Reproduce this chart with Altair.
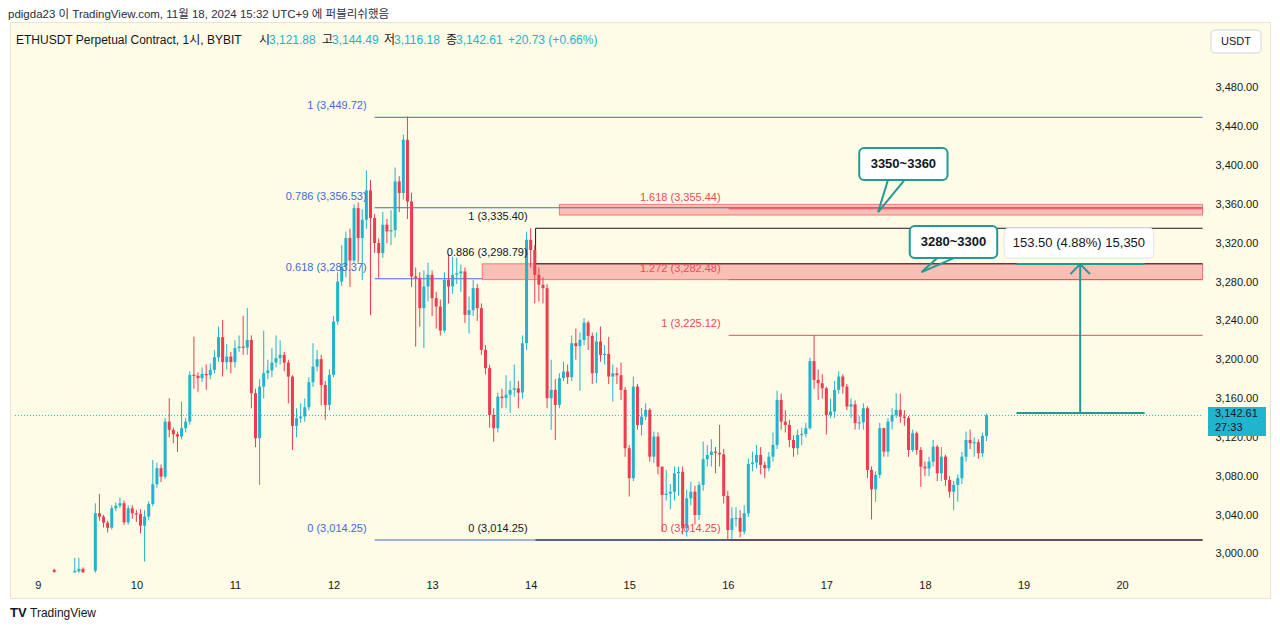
import altair as alt
import pandas as pd
from datetime import datetime, timezone

# ---------------------------------------------------------------- data
PRICE_TICKS = [3000, 3040, 3080, 3120, 3160, 3200, 3240, 3280, 3320, 3360, 3400, 3440, 3480]
DAY_TICK_HOURS = [0, 24, 48, 72, 96, 120, 144, 168, 192, 216, 240, 264]   # Nov 9 .. Nov 20 (00:00)

# a few early candles (Nov 9), mostly below the visible area
EARLY_HOURS = [4, 9, 10, 11]
EARLY_OPEN = [2983.5, 2981.0, 2982.0, 2984.5]
EARLY_HIGH = [2984.5, 2996.0, 2996.0, 2986.0]
EARLY_LOW = [2980.5, 2980.5, 2980.5, 2980.5]
EARLY_CLOSE = [2981.5, 2982.5, 2984.5, 2981.0]

# hourly candles from Nov 9 14:00 to Nov 18 15:00
MAIN_START_HOUR = 14
MAIN_FIRST_OPEN = 2982.6
CLOSES = [
    3041.8, 3038.3, 3032.1, 3026.9, 3046.9, 3049.6, 3052.1, 3032.5, 3046.9, 3041.8,
    3041.0, 3029.0, 3038.3, 3051.4, 3071.7, 3088.2, 3079.5, 3136.2, 3127.7, 3123.2,
    3120.8, 3129.4, 3136.2, 3184.4, 3183.5, 3181.0, 3185.4, 3184.0, 3189.5, 3202.6,
    3223.2, 3197.5, 3203.2, 3197.5, 3211.9, 3213.5, 3212.5, 3220.4, 3165.5, 3119.1,
    3172.3, 3186.1, 3189.0, 3197.0, 3201.6, 3205.0, 3197.0, 3182.6, 3131.8, 3139.7,
    3141.5, 3151.0, 3176.8, 3192.9, 3200.5, 3174.0, 3153.4, 3184.4, 3239.3, 3280.5,
    3296.0, 3325.3, 3302.2, 3356.2, 3325.3, 3344.2, 3374.4, 3345.9, 3320.2, 3309.8,
    3339.0, 3332.1, 3333.5, 3383.6, 3371.7, 3426.6, 3363.0, 3285.7, 3284.0, 3253.1,
    3275.4, 3287.5, 3263.4, 3254.8, 3230.0, 3282.3, 3275.4, 3287.5, 3289.0, 3290.9,
    3246.2, 3251.0, 3273.7, 3253.1, 3210.1, 3191.3, 3143.1, 3129.4, 3162.0, 3160.5,
    3164.0, 3168.9, 3170.5, 3166.1, 3217.0, 3323.5, 3313.0, 3287.5, 3277.2, 3273.7,
    3160.3, 3168.9, 3153.4, 3181.0, 3187.8, 3182.0, 3217.0, 3214.0, 3220.4, 3238.2,
    3224.5, 3186.1, 3218.7, 3205.0, 3206.0, 3182.6, 3186.0, 3184.0, 3168.9, 3108.8,
    3077.9, 3172.3, 3132.8, 3141.4, 3148.3, 3100.1, 3120.8, 3089.8, 3060.6, 3062.0,
    3064.0, 3083.0, 3084.5, 3026.3, 3057.2, 3064.0, 3040.0, 3071.0, 3097.5, 3101.9,
    3105.3, 3104.0, 3102.5, 3059.6, 3024.5, 3036.6, 3037.0, 3022.8, 3041.8, 3092.6,
    3094.0, 3101.9, 3091.6, 3088.2, 3100.1, 3112.2, 3158.6, 3136.2, 3132.8, 3117.3,
    3108.8, 3122.5, 3123.5, 3129.4, 3198.5, 3179.2, 3175.8, 3170.6, 3143.1, 3146.6,
    3168.9, 3182.6, 3172.3, 3151.7, 3154.0, 3134.6, 3135.5, 3150.0, 3086.4, 3066.5,
    3081.3, 3129.4, 3105.3, 3136.2, 3143.1, 3148.3, 3141.4, 3140.0, 3107.0, 3124.2,
    3107.0, 3089.8, 3088.0, 3095.0, 3110.4, 3083.0, 3100.1, 3076.1, 3064.0, 3071.0,
    3077.9, 3100.1, 3117.3, 3114.0, 3115.0, 3103.6, 3121.5, 3142.61,
]
HIGHS = [
    3052.0, 3061.7, 3040.0, 3034.0, 3050.0, 3053.0, 3058.0, 3055.0, 3050.0, 3050.0,
    3045.0, 3046.0, 3045.0, 3054.0, 3096.7, 3094.0, 3092.0, 3140.0, 3160.3, 3130.0,
    3126.0, 3156.8, 3140.0, 3188.0, 3223.8, 3187.0, 3192.0, 3195.0, 3196.0, 3210.0,
    3234.2, 3241.0, 3216.0, 3208.0, 3220.0, 3225.0, 3245.2, 3253.1, 3225.0, 3170.0,
    3180.0, 3230.0, 3200.0, 3212.0, 3225.0, 3220.0, 3208.0, 3200.0, 3184.0, 3150.0,
    3155.0, 3160.0, 3182.0, 3217.0, 3210.0, 3205.0, 3178.0, 3190.0, 3245.0, 3290.0,
    3318.0, 3332.0, 3335.0, 3360.0, 3362.0, 3355.0, 3395.0, 3385.0, 3350.0, 3325.0,
    3352.0, 3345.0, 3354.0, 3398.0, 3389.0, 3432.0, 3450.6, 3372.0, 3295.0, 3290.0,
    3292.0, 3300.0, 3292.0, 3270.0, 3262.0, 3290.0, 3309.0, 3306.0, 3305.0, 3298.0,
    3295.0, 3265.0, 3282.0, 3278.0, 3258.0, 3215.0, 3195.0, 3150.0, 3166.0, 3170.0,
    3184.0, 3178.0, 3195.0, 3178.0, 3225.0, 3332.0, 3335.4, 3318.0, 3295.0, 3285.0,
    3278.0, 3200.0, 3180.0, 3186.0, 3198.0, 3195.0, 3225.0, 3232.0, 3228.0, 3242.8,
    3240.0, 3228.0, 3228.0, 3234.0, 3215.0, 3223.5, 3195.0, 3192.0, 3197.0, 3172.0,
    3112.0, 3182.6, 3175.0, 3150.0, 3155.0, 3150.0, 3126.0, 3125.0, 3090.0, 3086.4,
    3072.0, 3090.0, 3090.0, 3090.0, 3066.0, 3074.4, 3070.0, 3074.4, 3115.6, 3112.0,
    3118.0, 3110.0, 3132.8, 3108.0, 3065.0, 3048.0, 3048.0, 3045.0, 3050.0, 3098.0,
    3105.3, 3112.0, 3110.0, 3095.0, 3105.0, 3125.0, 3168.0, 3165.0, 3148.0, 3138.0,
    3122.0, 3128.0, 3130.0, 3135.0, 3202.0, 3225.1, 3190.0, 3185.0, 3172.0, 3160.0,
    3178.0, 3188.0, 3185.0, 3175.0, 3160.0, 3158.0, 3142.0, 3155.0, 3152.0, 3090.0,
    3085.0, 3135.0, 3130.0, 3140.0, 3150.0, 3165.5, 3165.0, 3148.0, 3142.0, 3128.0,
    3126.0, 3110.0, 3095.0, 3100.0, 3117.3, 3112.0, 3110.0, 3102.0, 3080.0, 3075.0,
    3082.0, 3105.0, 3126.0, 3128.0, 3120.0, 3118.0, 3125.0, 3144.49,
]
LOWS = [
    2980.5, 3034.0, 3027.0, 3022.0, 3025.0, 3044.0, 3047.0, 3030.0, 3030.0, 3036.0,
    3033.0, 3021.0, 2992.0, 3035.0, 3049.0, 3068.0, 3074.0, 3077.0, 3120.0, 3114.0,
    3105.0, 3118.0, 3125.0, 3133.0, 3170.0, 3167.0, 3177.0, 3169.0, 3180.0, 3186.0,
    3198.0, 3182.6, 3190.0, 3186.0, 3192.0, 3208.0, 3205.0, 3205.0, 3150.0, 3110.0,
    3071.0, 3160.0, 3180.0, 3182.0, 3192.0, 3195.0, 3188.0, 3155.0, 3107.0, 3120.0,
    3135.0, 3136.0, 3148.0, 3172.0, 3188.0, 3153.0, 3138.0, 3148.0, 3182.0, 3236.0,
    3276.0, 3285.0, 3275.0, 3300.0, 3300.0, 3282.0, 3335.0, 3246.0, 3310.0, 3284.0,
    3305.0, 3320.0, 3318.0, 3326.0, 3352.0, 3365.0, 3345.0, 3275.0, 3213.5, 3234.0,
    3212.0, 3260.0, 3245.0, 3232.0, 3225.0, 3228.0, 3258.0, 3268.0, 3278.0, 3270.0,
    3238.0, 3227.0, 3245.0, 3240.0, 3205.0, 3185.0, 3130.0, 3115.6, 3125.0, 3150.0,
    3150.0, 3145.0, 3162.0, 3150.0, 3160.0, 3210.0, 3295.0, 3258.0, 3260.0, 3258.0,
    3150.0, 3127.7, 3117.3, 3150.0, 3178.0, 3175.0, 3178.0, 3200.0, 3168.0, 3215.0,
    3210.0, 3175.0, 3176.0, 3198.0, 3195.0, 3175.0, 3157.0, 3175.0, 3158.6, 3100.0,
    3059.0, 3075.0, 3128.0, 3122.0, 3138.0, 3095.0, 3093.6, 3082.0, 3022.8, 3055.0,
    3046.0, 3055.0, 3060.0, 3020.0, 3017.7, 3050.0, 3030.0, 3035.0, 3065.0, 3090.0,
    3090.0, 3083.0, 3090.0, 3052.0, 3015.0, 3015.0, 3028.0, 3017.0, 3020.0, 3038.0,
    3085.0, 3088.0, 3082.0, 3078.0, 3085.0, 3095.0, 3108.0, 3128.0, 3125.0, 3110.0,
    3100.0, 3102.0, 3112.0, 3120.0, 3128.0, 3170.0, 3158.6, 3160.0, 3123.0, 3140.0,
    3140.0, 3165.0, 3165.0, 3148.0, 3140.0, 3128.0, 3128.0, 3128.0, 3078.0, 3035.6,
    3053.7, 3078.0, 3100.0, 3100.0, 3128.0, 3140.0, 3135.0, 3132.0, 3100.0, 3105.0,
    3102.0, 3069.0, 3080.0, 3080.0, 3090.0, 3075.0, 3075.0, 3070.0, 3058.0, 3045.0,
    3053.7, 3072.0, 3095.0, 3108.0, 3100.0, 3098.0, 3100.0, 3116.18,
]
LAST_PRICE = 3142.61

# Fibonacci tools (level, price)
BLUE_LEVELS = ["1", "0.786", "0.618", "0"]
BLUE_PRICES = [3449.72, 3356.53, 3283.37, 3014.25]
BLACK_LEVELS = ["1", "0.886", "0"]
BLACK_PRICES = [3335.40, 3298.79, 3014.25]
RED_LEVELS = ["1.618", "1.272", "1", "0"]
RED_PRICES = [3355.44, 3282.48, 3225.12, 3014.25]

# zones and notes
ZONE_LOW = [3349.0, 3282.5]
ZONE_HIGH = [3360.0, 3298.8]
NOTE_TEXTS = ["3350~3360", "3280~3300"]
MEASURE_FROM = 3145.0
MEASURE_TO = 3298.5
MEASURE_TEXT = "153.50 (4.88%) 15,350"

LEGEND_KEYS = ["시", "고", "저", "종"]
LEGEND_VALUES = ["3,121.88", "3,144.49", "3,116.18", "3,142.61"]
LEGEND_CHANGE = "+20.73 (+0.66%)"

assert len(CLOSES) == len(HIGHS) == len(LOWS)

# ---------------------------------------------------------------- helpers / style
T0 = int(datetime(2024, 11, 9, tzinfo=timezone.utc).timestamp() * 1000)


def tms(h):
    return T0 + h * 3600000


UP = "#20B4CE"
DOWN = "#EF3B50"
BG = "#FEFBE6"
TEAL = "#1F9A94"
BLUE = "#4169D6"
BLACK = "#131722"
RED = "#EE4A58"
FONT = "Liberation Sans, Noto Sans CJK KR, sans-serif"

H_LEFT, H_RIGHT = -5.556, 298.8      # visible time range (hours from Nov 9 00:00)
H_EDGE = 283.6                       # right edge of drawings (price-axis boundary)
P_MIN, P_MAX = 2954.5, 3547.9

xs = alt.Scale(type="utc", domain=[tms(H_LEFT), tms(H_RIGHT)])
ys = alt.Scale(domain=[P_MIN, P_MAX], zero=False, nice=False)
XAX = alt.Axis(values=[tms(h) for h in DAY_TICK_HOURS], labelExpr="utcFormat(datum.value, '%-d')",
               title=None, domain=False, ticks=False, grid=False, offset=-24,
               labelPadding=5, labelFontSize=11, labelColor=BLACK, labelFont=FONT,
               labelOverlap=False, labelFlush=False)
YAX = alt.Axis(orient="right", values=PRICE_TICKS, format=",.2f", title=None,
               domain=False, ticks=False, grid=False, offset=-63, labelPadding=8,
               labelFontSize=11, labelColor=BLACK, labelFont=FONT, labelOverlap=False,
               labelFlush=False)


def X(f):
    return alt.X(f + ":T", scale=xs, axis=XAX)


def Y(f):
    return alt.Y(f + ":Q", scale=ys, axis=YAX)


# ---------------------------------------------------------------- candle table
hours = EARLY_HOURS + list(range(MAIN_START_HOUR, MAIN_START_HOUR + len(CLOSES)))
opens = EARLY_OPEN + [MAIN_FIRST_OPEN] + CLOSES[:-1]
highs = EARLY_HIGH + HIGHS
lows = EARLY_LOW + LOWS
closes = EARLY_CLOSE + CLOSES
rows = []
for h, o, hi, lo, c in zip(hours, opens, highs, lows, closes):
    top, bot = max(o, c), min(o, c)
    if top - bot < 1.2:
        bot = top - 1.2
    rows.append(dict(t=tms(h), o=o, h=hi, l=lo, c=c, top=top, bot=bot,
                     d="up" if c >= o else "down"))
candles = pd.DataFrame(rows)
cscale = alt.Color("d:N", scale=alt.Scale(domain=["up", "down"], range=[UP, DOWN]), legend=None)

wicks = alt.Chart(candles).mark_rule(strokeWidth=1).encode(x=X("t"), y=Y("l"), y2=alt.Y2("h"), color=cscale)
bodies = alt.Chart(candles).mark_bar(size=3).encode(x=X("t"), y=Y("bot"), y2=alt.Y2("top"), color=cscale)

# ---------------------------------------------------------------- fib lines
starts = {"blue": 82.0, "black": 121.2, "red": 168.2}
colmap = {"blue": BLUE, "black": BLACK, "red": RED}
ZONE_START = [127.0, 108.2]
lines, labels = [], []
for name, levels, prices in [("blue", BLUE_LEVELS, BLUE_PRICES), ("red", RED_LEVELS, RED_PRICES),
                             ("black", BLACK_LEVELS, BLACK_PRICES)]:
    for lv, p in zip(levels, prices):
        end = H_EDGE
        if name == "blue" and lv == "0.618":
            end = ZONE_START[1]          # hidden behind the lower zone further right
        lines.append(dict(x0=tms(starts[name]), x1=tms(end), p=p, col=colmap[name]))
        labels.append(dict(x0=tms(starts[name]), p=p, col=colmap[name], txt=f"{lv} ({p:,.2f})"))
lines_df = pd.DataFrame(lines)
labels_df = pd.DataFrame(labels)

fib_rules = alt.Chart(lines_df).mark_rule(strokeWidth=1).encode(
    x=X("x0"), x2=alt.X2("x1"), y=Y("p"), color=alt.Color("col:N", scale=None))
fib_text = alt.Chart(labels_df).mark_text(align="right", baseline="middle", dx=-8, dy=-11,
                                          fontSize=11, font=FONT).encode(
    x=X("x0"), y=Y("p"), text="txt:N", color=alt.Color("col:N", scale=None))
black_vert = alt.Chart(pd.DataFrame([dict(x0=tms(starts["black"]), p0=BLACK_PRICES[0], p1=BLACK_PRICES[1])])
                       ).mark_rule(strokeWidth=1, color=BLACK).encode(x=X("x0"), y=Y("p0"), y2=alt.Y2("p1"))

# ---------------------------------------------------------------- zones
zones = pd.DataFrame(dict(x0=[tms(s) for s in ZONE_START], x1=[tms(H_EDGE)] * 2, p0=ZONE_LOW, p1=ZONE_HIGH))
zone_rect = alt.Chart(zones).mark_rect(fill="#F23645", fillOpacity=0.3, stroke="#F23645",
                                       strokeOpacity=0.6, strokeWidth=1).encode(
    x=X("x0"), x2=alt.X2("x1"), y=Y("p0"), y2=alt.Y2("p1"))

# ---------------------------------------------------------------- price line
pl = pd.DataFrame([dict(x0=tms(H_LEFT), x1=tms(H_EDGE), p=LAST_PRICE)])
price_line = alt.Chart(pl).mark_rule(strokeWidth=1, strokeDash=[1, 2], color=UP).encode(
    x=X("x0"), x2=alt.X2("x1"), y=Y("p"))

# ---------------------------------------------------------------- callouts
notes = pd.DataFrame(dict(x0=[tms(200.0), tms(212.3)], x1=[tms(221.5), tms(233.6)],
                          p0=[3385.1, 3304.7], p1=[3418.1, 3337.7],
                          xc=[tms(210.75), tms(222.95)], pc=[3401.6, 3321.2], txt=NOTE_TEXTS))
note_box = alt.Chart(notes).mark_rect(fill="white", stroke=TEAL, strokeWidth=2, cornerRadius=5).encode(
    x=X("x0"), x2=alt.X2("x1"), y=Y("p0"), y2=alt.Y2("p1"))
note_txt = alt.Chart(notes).mark_text(fontSize=13, fontWeight="bold", font=FONT, color=BLACK).encode(
    x=X("xc"), y=Y("pc"), text="txt:N")
tails = pd.DataFrame(dict(
    x0=[tms(207.0), tms(211.0), tms(219.0), tms(223.0)],
    x1=[tms(204.6), tms(204.6), tms(215.2), tms(215.2)],
    p0=[3385.1, 3385.1, 3304.7, 3304.7],
    p1=[3352.1, 3352.1, 3290.3, 3290.3]))
tail_rules = alt.Chart(tails).mark_rule(strokeWidth=2, color=TEAL).encode(
    x=X("x0"), x2=alt.X2("x1"), y=Y("p0"), y2=alt.Y2("p1"))

# ---------------------------------------------------------------- measure tool
mx0, mx1, mxc = 238.3, 269.5, 253.8
meas = pd.DataFrame(dict(
    x0=[tms(mx0), tms(mx0), tms(mxc), tms(mxc - 2.4), tms(mxc + 2.4)],
    x1=[tms(mx1), tms(mx1), tms(mxc), tms(mxc), tms(mxc)],
    p0=[MEASURE_FROM, MEASURE_TO, MEASURE_FROM, MEASURE_TO - 10.3, MEASURE_TO - 10.3],
    p1=[MEASURE_FROM, MEASURE_TO, MEASURE_TO, MEASURE_TO, MEASURE_TO]))
meas_rules = alt.Chart(meas).mark_rule(strokeWidth=2, color=TEAL).encode(
    x=X("x0"), x2=alt.X2("x1"), y=Y("p0"), y2=alt.Y2("p1"))
mbox = pd.DataFrame([dict(x0=tms(235.3), x1=tms(271.7), p0=3304.7, p1=3335.6, xc=tms(253.5), pc=3320.2,
                          txt=MEASURE_TEXT)])
meas_box = alt.Chart(mbox).mark_rect(fill="white", stroke="#E0E3EB", strokeWidth=1, cornerRadius=4).encode(
    x=X("x0"), x2=alt.X2("x1"), y=Y("p0"), y2=alt.Y2("p1"))
meas_txt = alt.Chart(mbox).mark_text(fontSize=13, font=FONT, color=BLACK).encode(
    x=X("xc"), y=Y("pc"), text="txt:N")

# ---------------------------------------------------------------- static texts (header, legend, footer)
ONE = pd.DataFrame({"k": [0]})


def label(txt, x, y, size=12, color=BLACK, weight="normal", align="left"):
    return alt.Chart(ONE).mark_text(text=txt, fontSize=size, color=color, font=FONT, fontWeight=weight,
                                    align=align, baseline="middle").encode(x=alt.value(x), y=alt.value(y))


texts = [label("pdigda23 이 TradingView.com, 11월 18, 2024 15:32 UTC+9 에 퍼블리쉬했음", -2, -7, size=11.5,
               color="#2A2E39"),
         label("ETHUSDT Perpetual Contract, 1시, BYBIT", 6, 18)]
kx = [249, 312, 374, 436]
for k, v, x in zip(LEGEND_KEYS, LEGEND_VALUES, kx):
    texts.append(label(k, x, 18))
    texts.append(label(v, x + 10, 18, color=UP))
texts.append(label(LEGEND_CHANGE, 498, 18, color=UP))
texts.append(label("TV", 0, 591, size=13, weight="bold"))
texts.append(label("TradingView", 20, 591, size=12))

# USDT button and last-price tag on the price scale
usdt_btn = alt.Chart(ONE).mark_rect(fill="white", stroke="#D1D4DC", strokeWidth=1, cornerRadius=4).encode(
    x=alt.value(1201), x2=alt.value(1251), y=alt.value(8), y2=alt.value(31))
usdt_txt = label("USDT", 1226, 19.5, size=11, align="center")
tag = alt.Chart(ONE).mark_rect(fill=UP).encode(
    x=alt.value(1198), x2=alt.value(1256), y=alt.value(385), y2=alt.value(414))
tag_t1 = label(f"{LAST_PRICE:,.2f}", 1205, 392, size=11)
tag_t2 = label("27:33", 1205, 406, size=11)

chart = alt.layer(
    zone_rect, fib_rules, black_vert, price_line, wicks, bodies, fib_text,
    note_box, tail_rules, note_txt, meas_rules, meas_box, meas_txt,
    usdt_btn, usdt_txt, tag, tag_t1, tag_t2, *texts
).properties(
    width=1260, height=576,
    autosize=alt.AutoSizeParams(type="none"),
    padding={"left": 2, "top": 14, "right": 2, "bottom": 30},
).configure(background="white").configure_view(fill=BG, stroke="#E8E5D0")

chart.save("out.html", embed_options={"renderer": "svg", "actions": False})
